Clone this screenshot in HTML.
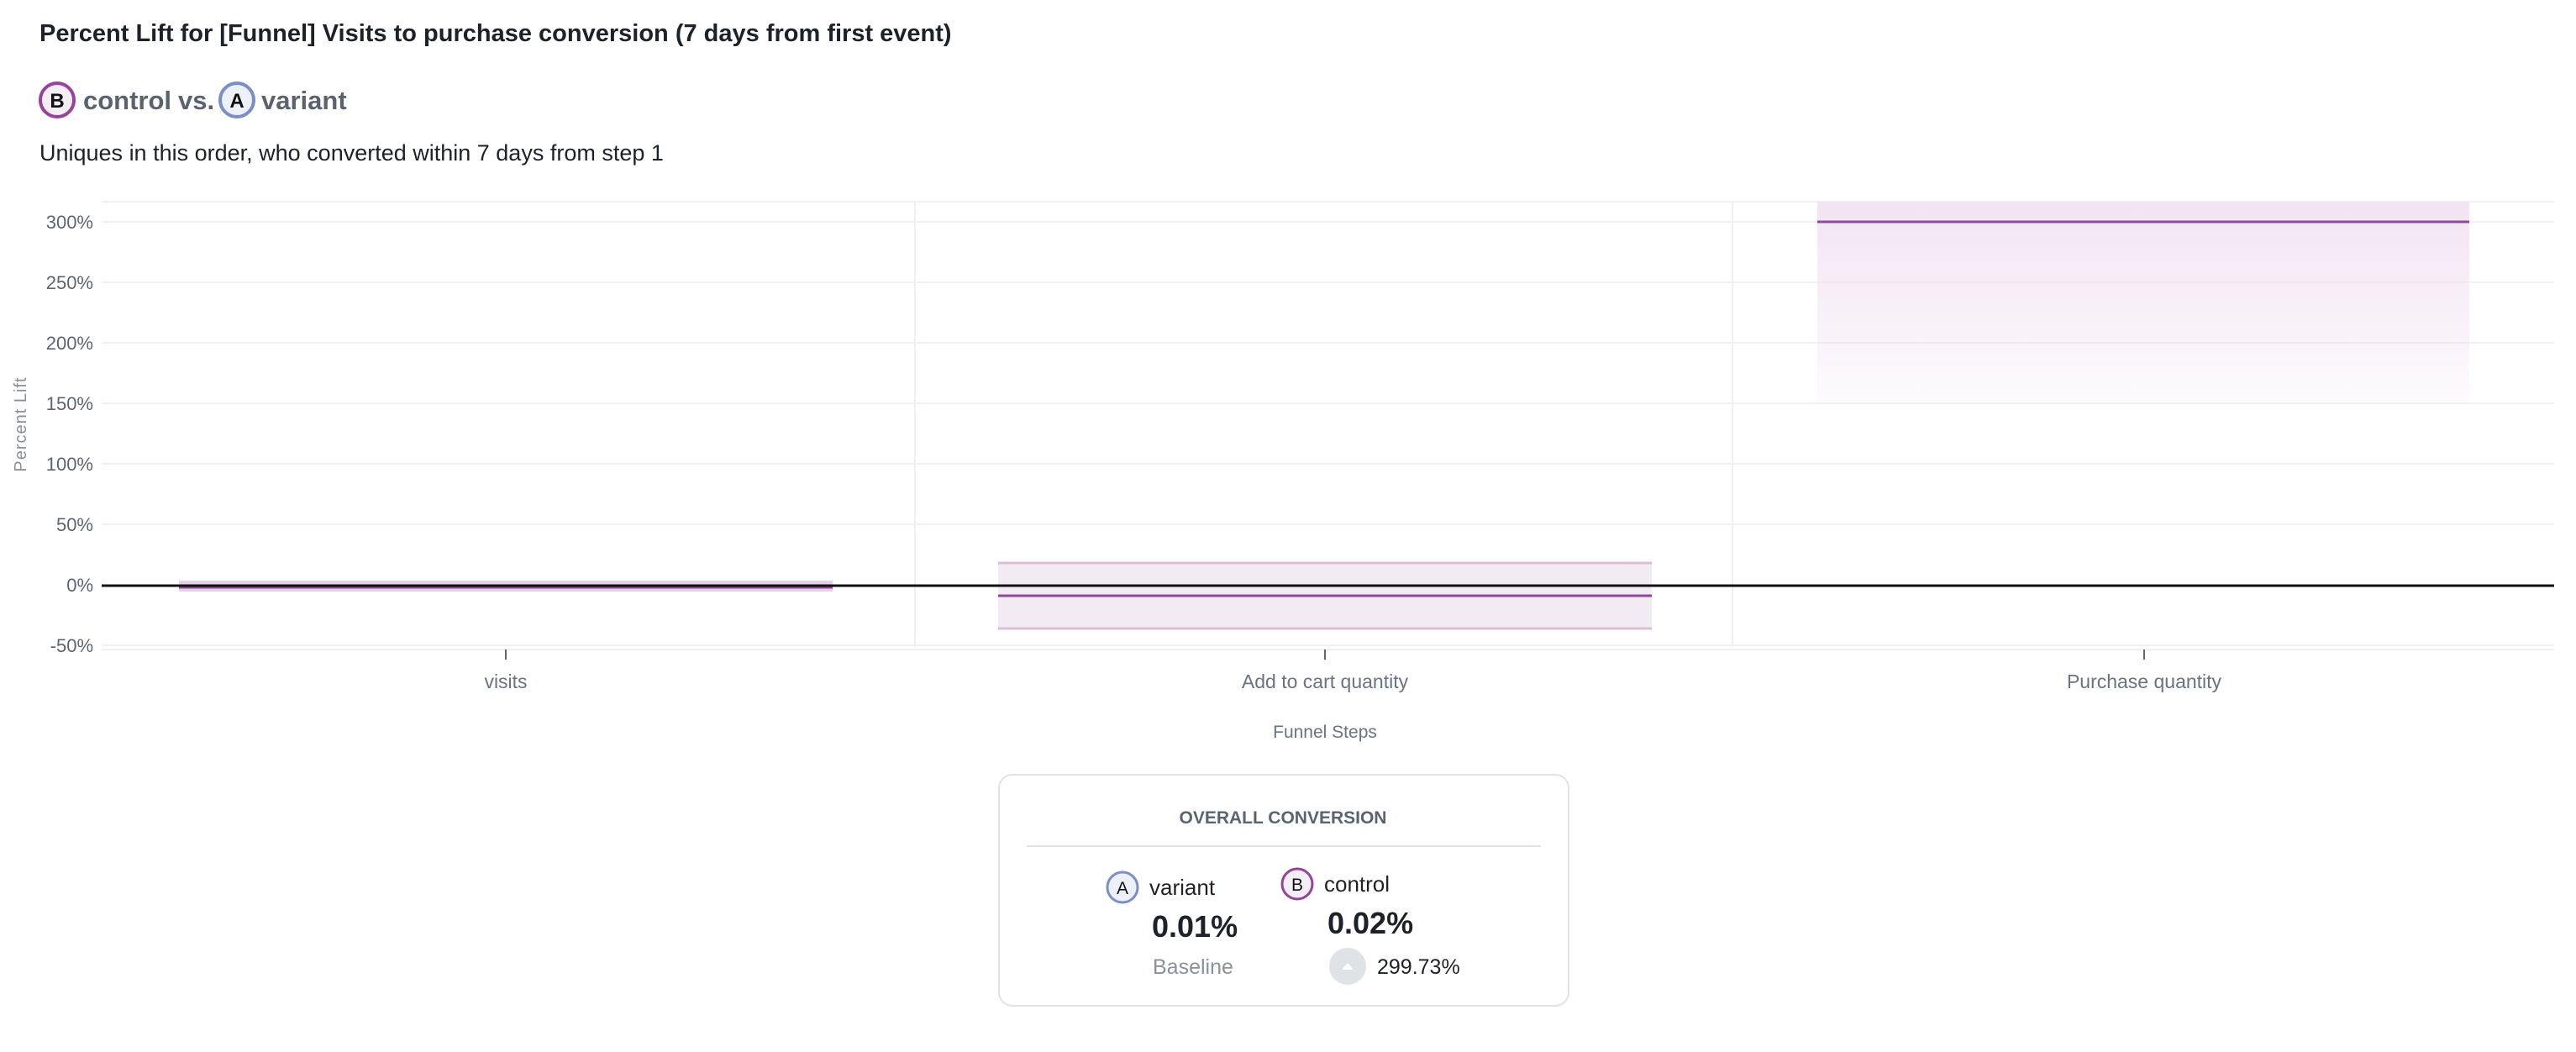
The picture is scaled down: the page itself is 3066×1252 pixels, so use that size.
<!DOCTYPE html>
<html><head><meta charset="utf-8"><style>
html,body{margin:0;padding:0;background:#fff;width:3066px;height:1252px;overflow:hidden}
svg{display:block}
text{font-family:"Liberation Sans",sans-serif}
</style></head><body>
<svg width="3066" height="1252" viewBox="0 0 3066 1252" xmlns="http://www.w3.org/2000/svg">
<defs>
<linearGradient id="pg" x1="0" y1="0" x2="0" y2="1">
<stop offset="0" stop-color="#f2e4f2"/>
<stop offset="1" stop-color="#f2e4f2" stop-opacity="0.15"/>
</linearGradient>
</defs>
<text x="47" y="49" font-size="29" font-weight="bold" fill="#1d2129">Percent Lift for [Funnel] Visits to purchase conversion (7 days from first event)</text>
<circle cx="68" cy="119" r="20" fill="#f3edf4" stroke="#96439b" stroke-width="4"/>
<text x="68" y="128" font-size="24" font-weight="bold" text-anchor="middle" fill="#111">B</text>
<text x="99" y="130" font-size="31" font-weight="bold" fill="#5a6270">control</text>
<text x="212" y="130" font-size="31" font-weight="bold" fill="#5a6270">vs.</text>
<circle cx="282" cy="119" r="20" fill="#eef0f7" stroke="#7a8fc4" stroke-width="4"/>
<text x="282" y="128" font-size="24" font-weight="bold" text-anchor="middle" fill="#111">A</text>
<text x="311" y="130" font-size="31" font-weight="bold" fill="#5a6270">variant</text>
<text x="47" y="191" font-size="27" fill="#1d2129">Uniques in this order, who converted within 7 days from step 1</text>
<g stroke="#eef0f4" stroke-width="2">
<line x1="121" y1="240" x2="3040" y2="240"/>
<line x1="121" y1="264" x2="3040" y2="264"/>
<line x1="121" y1="336" x2="3040" y2="336"/>
<line x1="121" y1="408" x2="3040" y2="408"/>
<line x1="121" y1="480" x2="3040" y2="480"/>
<line x1="121" y1="552" x2="3040" y2="552"/>
<line x1="121" y1="624" x2="3040" y2="624"/>
<line x1="121" y1="768" x2="3040" y2="768"/>
<line x1="121" y1="773" x2="3040" y2="773"/>
<line x1="1089" y1="240" x2="1089" y2="770"/>
<line x1="2062" y1="240" x2="2062" y2="770"/>
</g>
<g font-size="22" fill="#5f6570" text-anchor="end">
<text x="111" y="272">300%</text>
<text x="111" y="344">250%</text>
<text x="111" y="416">200%</text>
<text x="111" y="488">150%</text>
<text x="111" y="560">100%</text>
<text x="111" y="632">50%</text>
<text x="111" y="704">0%</text>
<text x="111" y="776">-50%</text>
</g>
<text transform="translate(31,505) rotate(-90)" font-size="20" fill="#8a919c" text-anchor="middle" letter-spacing="1">Percent Lift</text>
<rect x="2163" y="240" width="776" height="240" fill="url(#pg)"/>
<line x1="2163" y1="264" x2="2939" y2="264" stroke="#8e4a9a" stroke-width="3"/>
<rect x="1188" y="669" width="778" height="80" fill="#f3ebf4"/>
<line x1="1188" y1="670" x2="1966" y2="670" stroke="#dbbcd9" stroke-width="3"/>
<line x1="1188" y1="748" x2="1966" y2="748" stroke="#dbbcd9" stroke-width="3"/>
<line x1="1188" y1="709" x2="1966" y2="709" stroke="#8e4a9a" stroke-width="3"/>
<rect x="213" y="691" width="778" height="13" fill="#e6d0e6"/>
<line x1="213" y1="699" x2="991" y2="699" stroke="#8e4a9a" stroke-width="3"/>
<line x1="121" y1="697" x2="3040" y2="697" stroke="#111" stroke-width="3"/>
<g stroke="#666" stroke-width="2">
<line x1="602" y1="773" x2="602" y2="785"/>
<line x1="1577" y1="773" x2="1577" y2="785"/>
<line x1="2552" y1="773" x2="2552" y2="785"/>
</g>
<g font-size="23" fill="#6b7280" text-anchor="middle">
<text x="602" y="819">visits</text>
<text x="1577" y="819">Add to cart quantity</text>
<text x="2552" y="819">Purchase quantity</text>
<text x="1577" y="878" font-size="21">Funnel Steps</text>
</g>
<rect x="1189" y="922" width="678" height="275" rx="16" fill="#fff" stroke="#dfe2e7" stroke-width="2"/>
<text x="1527" y="980" font-size="21" font-weight="bold" fill="#5a6470" text-anchor="middle">OVERALL CONVERSION</text>
<line x1="1222" y1="1007" x2="1834" y2="1007" stroke="#dfe2e7" stroke-width="2"/>
<circle cx="1336" cy="1056" r="18" fill="#eef0f7" stroke="#7a8fc4" stroke-width="3"/>
<text x="1336" y="1064" font-size="21" text-anchor="middle" fill="#111">A</text>
<text x="1368" y="1065" font-size="26" fill="#1d2129">variant</text>
<circle cx="1544" cy="1052" r="18" fill="#f3edf4" stroke="#96439b" stroke-width="3"/>
<text x="1544" y="1060" font-size="21" text-anchor="middle" fill="#111">B</text>
<text x="1576" y="1061" font-size="26" fill="#1d2129">control</text>
<text x="1371" y="1115" font-size="36" font-weight="bold" fill="#1d2129">0.01%</text>
<text x="1580" y="1111" font-size="36" font-weight="bold" fill="#1d2129">0.02%</text>
<text x="1372" y="1159" font-size="25" fill="#8a919c">Baseline</text>
<circle cx="1604" cy="1150" r="22" fill="#dfe2e7"/>
<polygon points="1597,1154 1611,1154 1604,1146" fill="#fff"/>
<text x="1639" y="1159" font-size="25" fill="#1d2129">299.73%</text>
</svg>
</body></html>
